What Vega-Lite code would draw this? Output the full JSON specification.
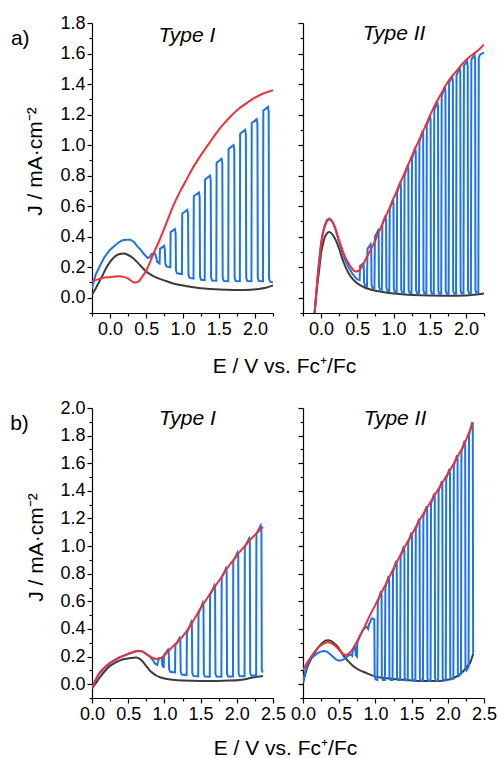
{
"$schema": "https://vega.github.io/schema/vega-lite/v6.json",
"padding": {"left": 10, "top": 14, "right": 0, "bottom": 0},
"config": {
 "view": {"stroke": null},
 "font": "Liberation Sans",
 "axis": {"domainColor":"#000","tickColor":"#000","labelColor":"#000","titleColor":"#000","labelFont":"Liberation Sans","titleFont":"Liberation Sans","labelFontSize":18,"titleFontSize":21,"titleFontWeight":"normal","grid":false,"tickSize":5,"labelPadding":2,"domainWidth":1.2,"tickWidth":1.2,"labelFlush":false,"labelOverlap":false},
 "text": {"font":"Liberation Sans","color":"#000"}
},
"datasets": {
"a1g": [{"x":-0.25,"y":0.02},{"x":-0.2,"y":0.06},{"x":-0.15,"y":0.105},{"x":-0.1,"y":0.15},{"x":-0.06,"y":0.19},{"x":0.0,"y":0.235},{"x":0.055,"y":0.265},{"x":0.12,"y":0.285},{"x":0.19,"y":0.29},{"x":0.25,"y":0.28},{"x":0.31,"y":0.262},{"x":0.36,"y":0.24},{"x":0.4,"y":0.22},{"x":0.45,"y":0.195},{"x":0.49,"y":0.175},{"x":0.55,"y":0.155},{"x":0.65,"y":0.13},{"x":0.77,"y":0.11},{"x":0.9,"y":0.09},{"x":1.04,"y":0.077},{"x":1.2,"y":0.065},{"x":1.45,"y":0.055},{"x":1.6,"y":0.052},{"x":1.78,"y":0.05},{"x":1.95,"y":0.053},{"x":2.05,"y":0.057},{"x":2.15,"y":0.065},{"x":2.25,"y":0.08}],
"a1r": [{"x":-0.25,"y":0.105},{"x":-0.2,"y":0.115},{"x":-0.1,"y":0.13},{"x":0.0,"y":0.135},{"x":0.12,"y":0.14},{"x":0.2,"y":0.135},{"x":0.25,"y":0.125},{"x":0.3,"y":0.108},{"x":0.33,"y":0.1},{"x":0.37,"y":0.102},{"x":0.4,"y":0.11},{"x":0.44,"y":0.135},{"x":0.49,"y":0.17},{"x":0.54,"y":0.22},{"x":0.6,"y":0.29},{"x":0.685,"y":0.38},{"x":0.77,"y":0.48},{"x":0.87,"y":0.6},{"x":0.96,"y":0.69},{"x":1.04,"y":0.76},{"x":1.13,"y":0.84},{"x":1.22,"y":0.91},{"x":1.32,"y":0.98},{"x":1.41,"y":1.04},{"x":1.5,"y":1.1},{"x":1.59,"y":1.15},{"x":1.69,"y":1.2},{"x":1.78,"y":1.24},{"x":1.87,"y":1.27},{"x":1.96,"y":1.3},{"x":2.1,"y":1.335},{"x":2.25,"y":1.36}],
"a1b": [{"x":-0.25,"y":0.06},{"x":-0.24,"y":0.08},{"x":-0.2,"y":0.15},{"x":-0.15,"y":0.2},{"x":-0.08,"y":0.265},{"x":-0.01,"y":0.31},{"x":0.05,"y":0.335},{"x":0.1,"y":0.355},{"x":0.16,"y":0.375},{"x":0.22,"y":0.38},{"x":0.28,"y":0.38},{"x":0.33,"y":0.365},{"x":0.38,"y":0.335},{"x":0.42,"y":0.315},{"x":0.47,"y":0.285},{"x":0.52,"y":0.26},{"x":0.55,"y":0.265},{"x":0.57,"y":0.285},{"x":0.62,"y":0.29},{"x":0.635,"y":0.27},{"x":0.65,"y":0.235},{"x":0.683,"y":0.225},
{"x":0.689,"y":0.32},{"x":0.747,"y":0.34},{"x":0.757,"y":0.31},{"x":0.762,"y":0.225},{"x":0.777,"y":0.205},{"x":0.832,"y":0.2},
{"x":0.836,"y":0.43},{"x":0.895,"y":0.45},{"x":0.905,"y":0.42},{"x":0.91,"y":0.18},{"x":0.925,"y":0.16},{"x":0.992,"y":0.155},
{"x":0.996,"y":0.55},{"x":1.067,"y":0.576},{"x":1.077,"y":0.545},{"x":1.082,"y":0.15},{"x":1.097,"y":0.13},{"x":1.152,"y":0.125},
{"x":1.156,"y":0.665},{"x":1.227,"y":0.69},{"x":1.237,"y":0.66},{"x":1.242,"y":0.138},{"x":1.257,"y":0.118},{"x":1.307,"y":0.115},
{"x":1.311,"y":0.775},{"x":1.38,"y":0.8},{"x":1.39,"y":0.77},{"x":1.395,"y":0.133},{"x":1.41,"y":0.113},{"x":1.467,"y":0.111},
{"x":1.471,"y":0.885},{"x":1.54,"y":0.91},{"x":1.55,"y":0.88},{"x":1.555,"y":0.13},{"x":1.57,"y":0.11},{"x":1.632,"y":0.108},
{"x":1.636,"y":0.975},{"x":1.705,"y":1.0},{"x":1.715,"y":0.97},{"x":1.72,"y":0.13},{"x":1.735,"y":0.11},{"x":1.792,"y":0.108},
{"x":1.796,"y":1.075},{"x":1.865,"y":1.1},{"x":1.875,"y":1.07},{"x":1.88,"y":0.13},{"x":1.895,"y":0.11},{"x":1.952,"y":0.108},
{"x":1.956,"y":1.145},{"x":2.025,"y":1.17},{"x":2.035,"y":1.14},{"x":2.04,"y":0.13},{"x":2.055,"y":0.11},{"x":2.112,"y":0.108},
{"x":2.116,"y":1.225},{"x":2.18,"y":1.25},{"x":2.19,"y":1.22},{"x":2.195,"y":0.125},{"x":2.21,"y":0.105},{"x":2.25,"y":0.1}],
"a2g": [{"x":-0.1,"y":-0.15},{"x":-0.088,"y":-0.09},{"x":-0.06,"y":0.05},{"x":-0.03,"y":0.17},{"x":0.0,"y":0.29},{"x":0.037,"y":0.375},{"x":0.075,"y":0.418},{"x":0.115,"y":0.43},{"x":0.155,"y":0.415},{"x":0.2,"y":0.38},{"x":0.25,"y":0.32},{"x":0.29,"y":0.26},{"x":0.33,"y":0.21},{"x":0.38,"y":0.16},{"x":0.44,"y":0.12},{"x":0.5,"y":0.094},{"x":0.58,"y":0.072},{"x":0.66,"y":0.057},{"x":0.77,"y":0.044},{"x":0.89,"y":0.035},{"x":1.05,"y":0.026},{"x":1.26,"y":0.018},{"x":1.5,"y":0.014},{"x":1.72,"y":0.013},{"x":2.0,"y":0.015},{"x":2.12,"y":0.02},{"x":2.25,"y":0.028}],
"a2r": [{"x":-0.1,"y":-0.15},{"x":-0.088,"y":-0.09},{"x":-0.06,"y":0.07},{"x":-0.04,"y":0.18},{"x":-0.023,"y":0.25},{"x":0.0,"y":0.35},{"x":0.025,"y":0.42},{"x":0.05,"y":0.465},{"x":0.08,"y":0.5},{"x":0.115,"y":0.513},{"x":0.15,"y":0.5},{"x":0.19,"y":0.465},{"x":0.24,"y":0.39},{"x":0.29,"y":0.32},{"x":0.33,"y":0.27},{"x":0.38,"y":0.225},{"x":0.43,"y":0.19},{"x":0.475,"y":0.172},{"x":0.52,"y":0.177},{"x":0.56,"y":0.2},{"x":0.61,"y":0.247},{"x":0.68,"y":0.31},{"x":0.75,"y":0.378},{"x":0.82,"y":0.455},{"x":0.89,"y":0.53},{"x":0.96,"y":0.605},{"x":1.03,"y":0.683},{"x":1.1,"y":0.76},{"x":1.17,"y":0.836},{"x":1.24,"y":0.913},{"x":1.31,"y":0.99},{"x":1.38,"y":1.06},{"x":1.445,"y":1.13},{"x":1.51,"y":1.2},{"x":1.58,"y":1.27},{"x":1.65,"y":1.33},{"x":1.72,"y":1.39},{"x":1.79,"y":1.44},{"x":1.86,"y":1.48},{"x":1.93,"y":1.52},{"x":2.0,"y":1.557},{"x":2.07,"y":1.585},{"x":2.14,"y":1.61},{"x":2.2,"y":1.635},{"x":2.25,"y":1.66}],
"a2b": [{"x":-0.1,"y":-0.15},{"x":-0.088,"y":-0.09},{"x":-0.06,"y":0.07},{"x":-0.04,"y":0.18},{"x":-0.023,"y":0.26},{"x":0.0,"y":0.36},{"x":0.025,"y":0.43},{"x":0.05,"y":0.475},{"x":0.08,"y":0.51},{"x":0.115,"y":0.52},{"x":0.15,"y":0.505},{"x":0.19,"y":0.46},{"x":0.24,"y":0.38},{"x":0.29,"y":0.3},{"x":0.33,"y":0.25},{"x":0.38,"y":0.2},{"x":0.43,"y":0.16},{"x":0.47,"y":0.135},{"x":0.5,"y":0.12},{"x":0.532,"y":0.115},
{"x":0.538,"y":0.21},{"x":0.582,"y":0.225},{"x":0.59,"y":0.2},{"x":0.594,"y":0.1},{"x":0.608,"y":0.08},{"x":0.634,"y":0.075},
{"x":0.6405,"y":0.32},{"x":0.6845,"y":0.35},{"x":0.6925,"y":0.32},{"x":0.6965,"y":0.085},{"x":0.7105,"y":0.065},{"x":0.7365,"y":0.062},
{"x":0.743,"y":0.4},{"x":0.787,"y":0.44},{"x":0.795,"y":0.41},{"x":0.799,"y":0.074},{"x":0.813,"y":0.054},{"x":0.839,"y":0.052},
{"x":0.8455,"y":0.48},{"x":0.8895,"y":0.54},{"x":0.8975,"y":0.51},{"x":0.9015,"y":0.065},{"x":0.9155,"y":0.045},{"x":0.9415,"y":0.043},
{"x":0.948,"y":0.58},{"x":0.992,"y":0.645},{"x":1.0,"y":0.615},{"x":1.004,"y":0.058},{"x":1.018,"y":0.038},{"x":1.044,"y":0.036},
{"x":1.0505,"y":0.69},{"x":1.0945,"y":0.76},{"x":1.1025,"y":0.73},{"x":1.1065,"y":0.054},{"x":1.1205,"y":0.034},{"x":1.1465,"y":0.033},
{"x":1.153,"y":0.8},{"x":1.197,"y":0.87},{"x":1.205,"y":0.84},{"x":1.209,"y":0.051},{"x":1.223,"y":0.031},{"x":1.249,"y":0.03},
{"x":1.2555,"y":0.91},{"x":1.2995,"y":0.985},{"x":1.3075,"y":0.955},{"x":1.3115,"y":0.049},{"x":1.3255,"y":0.029},{"x":1.3515,"y":0.028},
{"x":1.358,"y":1.02},{"x":1.402,"y":1.095},{"x":1.41,"y":1.065},{"x":1.414,"y":0.047},{"x":1.428,"y":0.027},{"x":1.454,"y":0.026},
{"x":1.4605,"y":1.13},{"x":1.5045,"y":1.195},{"x":1.5125,"y":1.165},{"x":1.5165,"y":0.046},{"x":1.5305,"y":0.026},{"x":1.5565,"y":0.026},
{"x":1.563,"y":1.23},{"x":1.607,"y":1.28},{"x":1.615,"y":1.25},{"x":1.619,"y":0.046},{"x":1.633,"y":0.026},{"x":1.659,"y":0.026},
{"x":1.6655,"y":1.32},{"x":1.7095,"y":1.385},{"x":1.7175,"y":1.355},{"x":1.7215,"y":0.046},{"x":1.7355,"y":0.026},{"x":1.7615,"y":0.026},
{"x":1.768,"y":1.41},{"x":1.812,"y":1.45},{"x":1.82,"y":1.42},{"x":1.824,"y":0.046},{"x":1.838,"y":0.026},{"x":1.864,"y":0.026},
{"x":1.8705,"y":1.46},{"x":1.9145,"y":1.505},{"x":1.9225,"y":1.475},{"x":1.9265,"y":0.047},{"x":1.9405,"y":0.027},{"x":1.9665,"y":0.027},
{"x":1.973,"y":1.52},{"x":2.017,"y":1.55},{"x":2.025,"y":1.52},{"x":2.029,"y":0.048},{"x":2.043,"y":0.028},{"x":2.069,"y":0.028},
{"x":2.0755,"y":1.56},{"x":2.1195,"y":1.59},{"x":2.1275,"y":1.56},{"x":2.1315,"y":0.05},{"x":2.1455,"y":0.03},{"x":2.1715,"y":0.031},
{"x":2.178,"y":1.575},{"x":2.2,"y":1.595},{"x":2.25,"y":1.605}],
"b1g": [{"x":0,"y":-0.03},{"x":0.05,"y":0.005},{"x":0.1,"y":0.043},{"x":0.17,"y":0.09},{"x":0.24,"y":0.128},{"x":0.31,"y":0.152},{"x":0.38,"y":0.171},{"x":0.45,"y":0.182},{"x":0.52,"y":0.188},{"x":0.61,"y":0.193},{"x":0.66,"y":0.183},{"x":0.7,"y":0.164},{"x":0.75,"y":0.13},{"x":0.79,"y":0.104},{"x":0.84,"y":0.08},{"x":0.886,"y":0.063},{"x":0.95,"y":0.048},{"x":1.02,"y":0.039},{"x":1.12,"y":0.032},{"x":1.25,"y":0.027},{"x":1.5,"y":0.024},{"x":1.72,"y":0.024},{"x":1.9,"y":0.026},{"x":2.04,"y":0.031},{"x":2.15,"y":0.04},{"x":2.22,"y":0.048},{"x":2.36,"y":0.06}],
"b1r": [{"x":0,"y":-0.03},{"x":0.05,"y":0.03},{"x":0.1,"y":0.08},{"x":0.17,"y":0.12},{"x":0.24,"y":0.152},{"x":0.31,"y":0.175},{"x":0.38,"y":0.195},{"x":0.45,"y":0.21},{"x":0.52,"y":0.224},{"x":0.58,"y":0.236},{"x":0.63,"y":0.243},{"x":0.67,"y":0.24},{"x":0.7,"y":0.236},{"x":0.75,"y":0.22},{"x":0.79,"y":0.205},{"x":0.84,"y":0.19},{"x":0.886,"y":0.183},{"x":0.93,"y":0.186},{"x":0.98,"y":0.2},{"x":1.03,"y":0.225},{"x":1.07,"y":0.248},{"x":1.14,"y":0.285},{"x":1.21,"y":0.32},{"x":1.28,"y":0.365},{"x":1.35,"y":0.417},{"x":1.42,"y":0.477},{"x":1.485,"y":0.537},{"x":1.55,"y":0.59},{"x":1.62,"y":0.646},{"x":1.69,"y":0.7},{"x":1.76,"y":0.754},{"x":1.83,"y":0.81},{"x":1.9,"y":0.863},{"x":1.97,"y":0.91},{"x":2.04,"y":0.959},{"x":2.11,"y":1.0},{"x":2.18,"y":1.043},{"x":2.27,"y":1.09},{"x":2.36,"y":1.14}],
"b1b": [{"x":0,"y":-0.03},{"x":0.05,"y":0.03},{"x":0.1,"y":0.075},{"x":0.17,"y":0.115},{"x":0.24,"y":0.148},{"x":0.31,"y":0.172},{"x":0.38,"y":0.192},{"x":0.45,"y":0.207},{"x":0.52,"y":0.222},{"x":0.58,"y":0.233},{"x":0.63,"y":0.24},{"x":0.67,"y":0.239},{"x":0.7,"y":0.235},{"x":0.75,"y":0.218},{"x":0.8,"y":0.2},{"x":0.84,"y":0.175},{"x":0.87,"y":0.15},{"x":0.9,"y":0.14},{"x":0.915,"y":0.17},{"x":0.93,"y":0.19},{"x":0.965,"y":0.19},{"x":0.97,"y":0.14},{"x":0.985,"y":0.125},
{"x":0.99,"y":0.125},{"x":0.994,"y":0.21},{"x":1.05,"y":0.25},{"x":1.06,"y":0.225},{"x":1.065,"y":0.11},{"x":1.08,"y":0.09},{"x":1.147,"y":0.085},
{"x":1.151,"y":0.28},{"x":1.21,"y":0.335},{"x":1.22,"y":0.31},{"x":1.225,"y":0.09},{"x":1.24,"y":0.07},{"x":1.307,"y":0.066},
{"x":1.311,"y":0.37},{"x":1.37,"y":0.45},{"x":1.38,"y":0.425},{"x":1.385,"y":0.08},{"x":1.4,"y":0.06},{"x":1.467,"y":0.057},
{"x":1.471,"y":0.51},{"x":1.53,"y":0.59},{"x":1.54,"y":0.565},{"x":1.545,"y":0.075},{"x":1.56,"y":0.055},{"x":1.627,"y":0.054},
{"x":1.631,"y":0.645},{"x":1.69,"y":0.715},{"x":1.7,"y":0.69},{"x":1.705,"y":0.075},{"x":1.72,"y":0.055},{"x":1.787,"y":0.054},
{"x":1.791,"y":0.77},{"x":1.85,"y":0.84},{"x":1.86,"y":0.815},{"x":1.865,"y":0.075},{"x":1.88,"y":0.055},{"x":1.947,"y":0.055},
{"x":1.951,"y":0.89},{"x":2.01,"y":0.955},{"x":2.02,"y":0.93},{"x":2.025,"y":0.077},{"x":2.04,"y":0.057},{"x":2.107,"y":0.058},
{"x":2.111,"y":0.995},{"x":2.17,"y":1.055},{"x":2.18,"y":1.03},{"x":2.185,"y":0.08},{"x":2.2,"y":0.062},{"x":2.267,"y":0.065},
{"x":2.271,"y":1.09},{"x":2.33,"y":1.15},{"x":2.34,"y":1.12},{"x":2.345,"y":0.1},{"x":2.36,"y":0.085}],
"b2g": [{"x":0,"y":0.007},{"x":0.03,"y":0.07},{"x":0.06,"y":0.123},{"x":0.1,"y":0.17},{"x":0.13,"y":0.2},{"x":0.18,"y":0.245},{"x":0.22,"y":0.272},{"x":0.27,"y":0.3},{"x":0.315,"y":0.316},{"x":0.35,"y":0.318},{"x":0.385,"y":0.313},{"x":0.43,"y":0.296},{"x":0.477,"y":0.272},{"x":0.52,"y":0.24},{"x":0.57,"y":0.2},{"x":0.63,"y":0.163},{"x":0.685,"y":0.135},{"x":0.75,"y":0.11},{"x":0.824,"y":0.092},{"x":0.9,"y":0.075},{"x":1.01,"y":0.055},{"x":1.15,"y":0.043},{"x":1.29,"y":0.036},{"x":1.45,"y":0.029},{"x":1.61,"y":0.024},{"x":1.75,"y":0.023},{"x":1.89,"y":0.024},{"x":1.98,"y":0.03},{"x":2.07,"y":0.043},{"x":2.14,"y":0.062},{"x":2.21,"y":0.092},{"x":2.27,"y":0.13},{"x":2.31,"y":0.157},{"x":2.35,"y":0.22}],
"b2r": [{"x":0,"y":0.1},{"x":0.04,"y":0.14},{"x":0.083,"y":0.176},{"x":0.13,"y":0.213},{"x":0.176,"y":0.243},{"x":0.22,"y":0.27},{"x":0.27,"y":0.29},{"x":0.34,"y":0.304},{"x":0.39,"y":0.298},{"x":0.43,"y":0.284},{"x":0.48,"y":0.26},{"x":0.52,"y":0.236},{"x":0.555,"y":0.218},{"x":0.59,"y":0.212},{"x":0.625,"y":0.22},{"x":0.66,"y":0.236},{"x":0.72,"y":0.285},{"x":0.78,"y":0.345},{"x":0.85,"y":0.415},{"x":0.917,"y":0.49},{"x":0.99,"y":0.565},{"x":1.056,"y":0.634},{"x":1.125,"y":0.706},{"x":1.194,"y":0.778},{"x":1.263,"y":0.85},{"x":1.333,"y":0.923},{"x":1.4,"y":0.99},{"x":1.47,"y":1.055},{"x":1.54,"y":1.12},{"x":1.61,"y":1.188},{"x":1.68,"y":1.25},{"x":1.75,"y":1.308},{"x":1.82,"y":1.37},{"x":1.89,"y":1.429},{"x":1.96,"y":1.49},{"x":2.03,"y":1.549},{"x":2.1,"y":1.615},{"x":2.17,"y":1.682},{"x":2.22,"y":1.73},{"x":2.26,"y":1.778},{"x":2.3,"y":1.83},{"x":2.35,"y":1.894}],
"b2b": [{"x":0,"y":0.02},{"x":0.03,"y":0.09},{"x":0.06,"y":0.14},{"x":0.1,"y":0.18},{"x":0.153,"y":0.205},{"x":0.2,"y":0.225},{"x":0.245,"y":0.236},{"x":0.29,"y":0.241},{"x":0.33,"y":0.236},{"x":0.36,"y":0.224},{"x":0.41,"y":0.2},{"x":0.454,"y":0.18},{"x":0.49,"y":0.172},{"x":0.523,"y":0.171},{"x":0.56,"y":0.18},{"x":0.593,"y":0.193},{"x":0.64,"y":0.212},{"x":0.66,"y":0.215},{"x":0.68,"y":0.205},{"x":0.685,"y":0.24},{"x":0.7,"y":0.26},{"x":0.72,"y":0.27},{"x":0.73,"y":0.21},{"x":0.745,"y":0.2},{"x":0.75,"y":0.3},{"x":0.78,"y":0.34},{"x":0.82,"y":0.385},{"x":0.85,"y":0.405},{"x":0.88,"y":0.415},{"x":0.9,"y":0.4},{"x":0.91,"y":0.43},{"x":0.95,"y":0.476},{"x":0.985,"y":0.47},{"x":0.99,"y":0.06},{"x":1.0,"y":0.035},{"x":1.027,"y":0.03},
{"x":1.033,"y":0.592},{"x":1.077,"y":0.674},{"x":1.085,"y":0.644},{"x":1.089,"y":0.05},{"x":1.103,"y":0.03},{"x":1.132,"y":0.03},
{"x":1.138,"y":0.701},{"x":1.182,"y":0.784},{"x":1.19,"y":0.754},{"x":1.194,"y":0.05},{"x":1.208,"y":0.03},{"x":1.237,"y":0.03},
{"x":1.243,"y":0.811},{"x":1.287,"y":0.893},{"x":1.295,"y":0.863},{"x":1.299,"y":0.05},{"x":1.313,"y":0.03},{"x":1.342,"y":0.03},
{"x":1.348,"y":0.92},{"x":1.392,"y":1.0},{"x":1.4,"y":0.97},{"x":1.404,"y":0.048},{"x":1.418,"y":0.028},{"x":1.447,"y":0.028},
{"x":1.453,"y":1.021},{"x":1.497,"y":1.098},{"x":1.505,"y":1.068},{"x":1.509,"y":0.047},{"x":1.523,"y":0.027},{"x":1.552,"y":0.027},
{"x":1.558,"y":1.12},{"x":1.602,"y":1.198},{"x":1.61,"y":1.168},{"x":1.614,"y":0.046},{"x":1.628,"y":0.026},{"x":1.657,"y":0.026},
{"x":1.663,"y":1.217},{"x":1.707,"y":1.289},{"x":1.715,"y":1.259},{"x":1.719,"y":0.045},{"x":1.733,"y":0.025},{"x":1.762,"y":0.025},
{"x":1.768,"y":1.306},{"x":1.812,"y":1.38},{"x":1.82,"y":1.35},{"x":1.824,"y":0.045},{"x":1.838,"y":0.025},{"x":1.867,"y":0.025},
{"x":1.873,"y":1.397},{"x":1.917,"y":1.47},{"x":1.925,"y":1.44},{"x":1.929,"y":0.047},{"x":1.943,"y":0.027},{"x":1.972,"y":0.028},
{"x":1.978,"y":1.488},{"x":2.022,"y":1.559},{"x":2.03,"y":1.529},{"x":2.034,"y":0.055},{"x":2.048,"y":0.035},{"x":2.077,"y":0.04},
{"x":2.083,"y":1.581},{"x":2.127,"y":1.659},{"x":2.135,"y":1.629},{"x":2.139,"y":0.08},{"x":2.153,"y":0.06},{"x":2.182,"y":0.075},
{"x":2.188,"y":1.682},{"x":2.232,"y":1.764},{"x":2.24,"y":1.734},{"x":2.244,"y":0.12},{"x":2.258,"y":0.1},{"x":2.287,"y":0.125},
{"x":2.293,"y":1.802},{"x":2.337,"y":1.898},{"x":2.345,"y":1.87},{"x":2.35,"y":0.22}]
},
"spacing": 23,
"vconcat": [
{"hconcat": [
 {"width": 181, "height": 290,
  "layer": [
   {"data": {"name": "a1g"}, "mark": {"type": "line", "color": "#3c3c3c", "strokeWidth": 2, "clip": true, "interpolate": "monotone"},
    "encoding": {"x": {"field": "x", "type": "quantitative", "scale": {"domain": [-0.25, 2.25], "nice": false, "zero": false}, "axis": {"values": [0, 0.5, 1, 1.5, 2], "format": ".1f", "title": "E / V vs. Fc⁺/Fc", "titleX": 192, "titleY": 59, "titleBaseline": "alphabetic", "titleAlign": "center"}},
                 "y": {"field": "y", "type": "quantitative", "scale": {"domain": [-0.1, 1.8], "nice": false, "zero": false}, "axis": {"values": [0, 0.2, 0.4, 0.6, 0.8, 1, 1.2, 1.4, 1.6, 1.8], "format": ".1f", "title": "J / mA·cm⁻²", "titleX": -51, "titleY": 138, "titleAngle": -90, "titleAlign": "center", "titleBaseline": "alphabetic"}}}},
   {"data": {"name": "a1b"}, "mark": {"type": "line", "color": "#1e73e6", "strokeWidth": 2, "clip": true},
    "encoding": {"x": {"field": "x", "type": "quantitative", "scale": {"domain": [-0.25, 2.25], "nice": false, "zero": false}, "axis": {"orient": "bottom", "values": [-0.25, 0.25, 0.75, 1.25, 1.75, 2.25], "labels": false, "tickSize": 3, "domain": false, "title": null}},
                 "y": {"field": "y", "type": "quantitative", "scale": {"domain": [-0.1, 1.8], "nice": false, "zero": false}, "axis": {"orient": "left", "values": [-0.1, 0.1, 0.3, 0.5, 0.7, 0.9, 1.1, 1.3, 1.5, 1.7], "labels": false, "tickSize": 3, "domain": false, "title": null}}}},
   {"data": {"name": "a1r"}, "mark": {"type": "line", "color": "#ec3237", "strokeWidth": 2, "clip": true, "interpolate": "monotone"},
    "encoding": {"x": {"field": "x", "type": "quantitative", "scale": {"domain": [-0.25, 2.25], "nice": false, "zero": false}, "axis": null},
                 "y": {"field": "y", "type": "quantitative", "scale": {"domain": [-0.1, 1.8], "nice": false, "zero": false}, "axis": null}}},
   {"data": {"values": [{"x": 1.06, "y": 1.677, "t": "Type I"}]}, "mark": {"type": "text", "fontSize": 21, "fontStyle": "italic", "align": "center", "baseline": "alphabetic"},
    "encoding": {"x": {"field": "x", "type": "quantitative", "scale": {"domain": [-0.25, 2.25], "nice": false, "zero": false}, "axis": null},
                 "y": {"field": "y", "type": "quantitative", "scale": {"domain": [-0.1, 1.8], "nice": false, "zero": false}, "axis": null}, "text": {"field": "t"}}},
   {"data": {"values": [{"x": -1.37, "y": 1.656, "t": "a)"}]}, "mark": {"type": "text", "fontSize": 21, "align": "left", "baseline": "alphabetic"},
    "encoding": {"x": {"field": "x", "type": "quantitative", "scale": {"domain": [-0.25, 2.25], "nice": false, "zero": false}, "axis": null},
                 "y": {"field": "y", "type": "quantitative", "scale": {"domain": [-0.1, 1.8], "nice": false, "zero": false}, "axis": null}, "text": {"field": "t"}}}
  ],
  "resolve": {"axis": {"x": "independent", "y": "independent"}}
 },
 {"width": 181, "height": 290,
  "layer": [
   {"data": {"name": "a2g"}, "mark": {"type": "line", "color": "#3c3c3c", "strokeWidth": 2, "clip": true, "interpolate": "monotone"},
    "encoding": {"x": {"field": "x", "type": "quantitative", "scale": {"domain": [-0.25, 2.25], "nice": false, "zero": false}, "axis": {"values": [0, 0.5, 1, 1.5, 2], "format": ".1f", "title": null}},
                 "y": {"field": "y", "type": "quantitative", "scale": {"domain": [-0.1, 1.8], "nice": false, "zero": false}, "axis": {"values": [0, 0.2, 0.4, 0.6, 0.8, 1, 1.2, 1.4, 1.6, 1.8], "labels": false, "title": null}}}},
   {"data": {"name": "a2b"}, "mark": {"type": "line", "color": "#1e73e6", "strokeWidth": 2, "clip": true},
    "encoding": {"x": {"field": "x", "type": "quantitative", "scale": {"domain": [-0.25, 2.25], "nice": false, "zero": false}, "axis": {"orient": "bottom", "values": [-0.25, 0.25, 0.75, 1.25, 1.75, 2.25], "labels": false, "tickSize": 3, "domain": false, "title": null}},
                 "y": {"field": "y", "type": "quantitative", "scale": {"domain": [-0.1, 1.8], "nice": false, "zero": false}, "axis": {"orient": "left", "values": [-0.1, 0.1, 0.3, 0.5, 0.7, 0.9, 1.1, 1.3, 1.5, 1.7], "labels": false, "tickSize": 3, "domain": false, "title": null}}}},
   {"data": {"name": "a2r"}, "mark": {"type": "line", "color": "#ec3237", "strokeWidth": 2, "clip": true, "interpolate": "monotone"},
    "encoding": {"x": {"field": "x", "type": "quantitative", "scale": {"domain": [-0.25, 2.25], "nice": false, "zero": false}, "axis": null},
                 "y": {"field": "y", "type": "quantitative", "scale": {"domain": [-0.1, 1.8], "nice": false, "zero": false}, "axis": null}}},
   {"data": {"values": [{"x": 1.007, "y": 1.69, "t": "Type II"}]}, "mark": {"type": "text", "fontSize": 21, "fontStyle": "italic", "align": "center", "baseline": "alphabetic"},
    "encoding": {"x": {"field": "x", "type": "quantitative", "scale": {"domain": [-0.25, 2.25], "nice": false, "zero": false}, "axis": null},
                 "y": {"field": "y", "type": "quantitative", "scale": {"domain": [-0.1, 1.8], "nice": false, "zero": false}, "axis": null}, "text": {"field": "t"}}}
  ],
  "resolve": {"axis": {"x": "independent", "y": "independent"}}
 }
], "spacing": 30, "bounds": "flush"},
{"hconcat": [
 {"width": 181, "height": 290,
  "layer": [
   {"data": {"name": "b1g"}, "mark": {"type": "line", "color": "#3c3c3c", "strokeWidth": 2, "clip": true, "interpolate": "monotone"},
    "encoding": {"x": {"field": "x", "type": "quantitative", "scale": {"domain": [0, 2.5], "nice": false, "zero": false}, "axis": {"values": [0, 0.5, 1, 1.5, 2, 2.5], "format": ".1f", "title": "E / V vs. Fc⁺/Fc", "titleX": 193, "titleY": 56, "titleBaseline": "alphabetic", "titleAlign": "center"}},
                 "y": {"field": "y", "type": "quantitative", "scale": {"domain": [-0.1, 2.0], "nice": false, "zero": false}, "axis": {"values": [0, 0.2, 0.4, 0.6, 0.8, 1, 1.2, 1.4, 1.6, 1.8, 2.0], "format": ".1f", "title": "J / mA·cm⁻²", "titleX": -50, "titleY": 139, "titleAngle": -90, "titleAlign": "center", "titleBaseline": "alphabetic"}}}},
   {"data": {"name": "b1b"}, "mark": {"type": "line", "color": "#1e73e6", "strokeWidth": 2, "clip": true},
    "encoding": {"x": {"field": "x", "type": "quantitative", "scale": {"domain": [0, 2.5], "nice": false, "zero": false}, "axis": {"orient": "bottom", "values": [0.25, 0.75, 1.25, 1.75, 2.25], "labels": false, "tickSize": 3, "domain": false, "title": null}},
                 "y": {"field": "y", "type": "quantitative", "scale": {"domain": [-0.1, 2.0], "nice": false, "zero": false}, "axis": {"orient": "left", "values": [-0.1, 0.1, 0.3, 0.5, 0.7, 0.9, 1.1, 1.3, 1.5, 1.7, 1.9], "labels": false, "tickSize": 3, "domain": false, "title": null}}}},
   {"data": {"name": "b1r"}, "mark": {"type": "line", "color": "#ec3237", "strokeWidth": 2, "clip": true, "interpolate": "monotone"},
    "encoding": {"x": {"field": "x", "type": "quantitative", "scale": {"domain": [0, 2.5], "nice": false, "zero": false}, "axis": null},
                 "y": {"field": "y", "type": "quantitative", "scale": {"domain": [-0.1, 2.0], "nice": false, "zero": false}, "axis": null}}},
   {"data": {"values": [{"x": 1.317, "y": 1.877, "t": "Type I"}]}, "mark": {"type": "text", "fontSize": 21, "fontStyle": "italic", "align": "center", "baseline": "alphabetic"},
    "encoding": {"x": {"field": "x", "type": "quantitative", "scale": {"domain": [0, 2.5], "nice": false, "zero": false}, "axis": null},
                 "y": {"field": "y", "type": "quantitative", "scale": {"domain": [-0.1, 2.0], "nice": false, "zero": false}, "axis": null}, "text": {"field": "t"}}},
   {"data": {"values": [{"x": -1.13, "y": 1.84, "t": "b)"}]}, "mark": {"type": "text", "fontSize": 21, "align": "left", "baseline": "alphabetic"},
    "encoding": {"x": {"field": "x", "type": "quantitative", "scale": {"domain": [0, 2.5], "nice": false, "zero": false}, "axis": null},
                 "y": {"field": "y", "type": "quantitative", "scale": {"domain": [-0.1, 2.0], "nice": false, "zero": false}, "axis": null}, "text": {"field": "t"}}}
  ],
  "resolve": {"axis": {"x": "independent", "y": "independent"}}
 },
 {"width": 181, "height": 290,
  "layer": [
   {"data": {"name": "b2g"}, "mark": {"type": "line", "color": "#3c3c3c", "strokeWidth": 2, "clip": true, "interpolate": "monotone"},
    "encoding": {"x": {"field": "x", "type": "quantitative", "scale": {"domain": [0, 2.5], "nice": false, "zero": false}, "axis": {"values": [0, 0.5, 1, 1.5, 2, 2.5], "format": ".1f", "title": null}},
                 "y": {"field": "y", "type": "quantitative", "scale": {"domain": [-0.1, 2.0], "nice": false, "zero": false}, "axis": {"values": [0, 0.2, 0.4, 0.6, 0.8, 1, 1.2, 1.4, 1.6, 1.8, 2.0], "labels": false, "title": null}}}},
   {"data": {"name": "b2b"}, "mark": {"type": "line", "color": "#1e73e6", "strokeWidth": 2, "clip": true},
    "encoding": {"x": {"field": "x", "type": "quantitative", "scale": {"domain": [0, 2.5], "nice": false, "zero": false}, "axis": {"orient": "bottom", "values": [0.25, 0.75, 1.25, 1.75, 2.25], "labels": false, "tickSize": 3, "domain": false, "title": null}},
                 "y": {"field": "y", "type": "quantitative", "scale": {"domain": [-0.1, 2.0], "nice": false, "zero": false}, "axis": {"orient": "left", "values": [-0.1, 0.1, 0.3, 0.5, 0.7, 0.9, 1.1, 1.3, 1.5, 1.7, 1.9], "labels": false, "tickSize": 3, "domain": false, "title": null}}}},
   {"data": {"name": "b2r"}, "mark": {"type": "line", "color": "#ec3237", "strokeWidth": 2, "clip": true, "interpolate": "monotone"},
    "encoding": {"x": {"field": "x", "type": "quantitative", "scale": {"domain": [0, 2.5], "nice": false, "zero": false}, "axis": null},
                 "y": {"field": "y", "type": "quantitative", "scale": {"domain": [-0.1, 2.0], "nice": false, "zero": false}, "axis": null}}},
   {"data": {"values": [{"x": 1.27, "y": 1.88, "t": "Type II"}]}, "mark": {"type": "text", "fontSize": 21, "fontStyle": "italic", "align": "center", "baseline": "alphabetic"},
    "encoding": {"x": {"field": "x", "type": "quantitative", "scale": {"domain": [0, 2.5], "nice": false, "zero": false}, "axis": null},
                 "y": {"field": "y", "type": "quantitative", "scale": {"domain": [-0.1, 2.0], "nice": false, "zero": false}, "axis": null}, "text": {"field": "t"}}}
  ],
  "resolve": {"axis": {"x": "independent", "y": "independent"}}
 }
], "spacing": 30, "bounds": "flush"}
]
}
